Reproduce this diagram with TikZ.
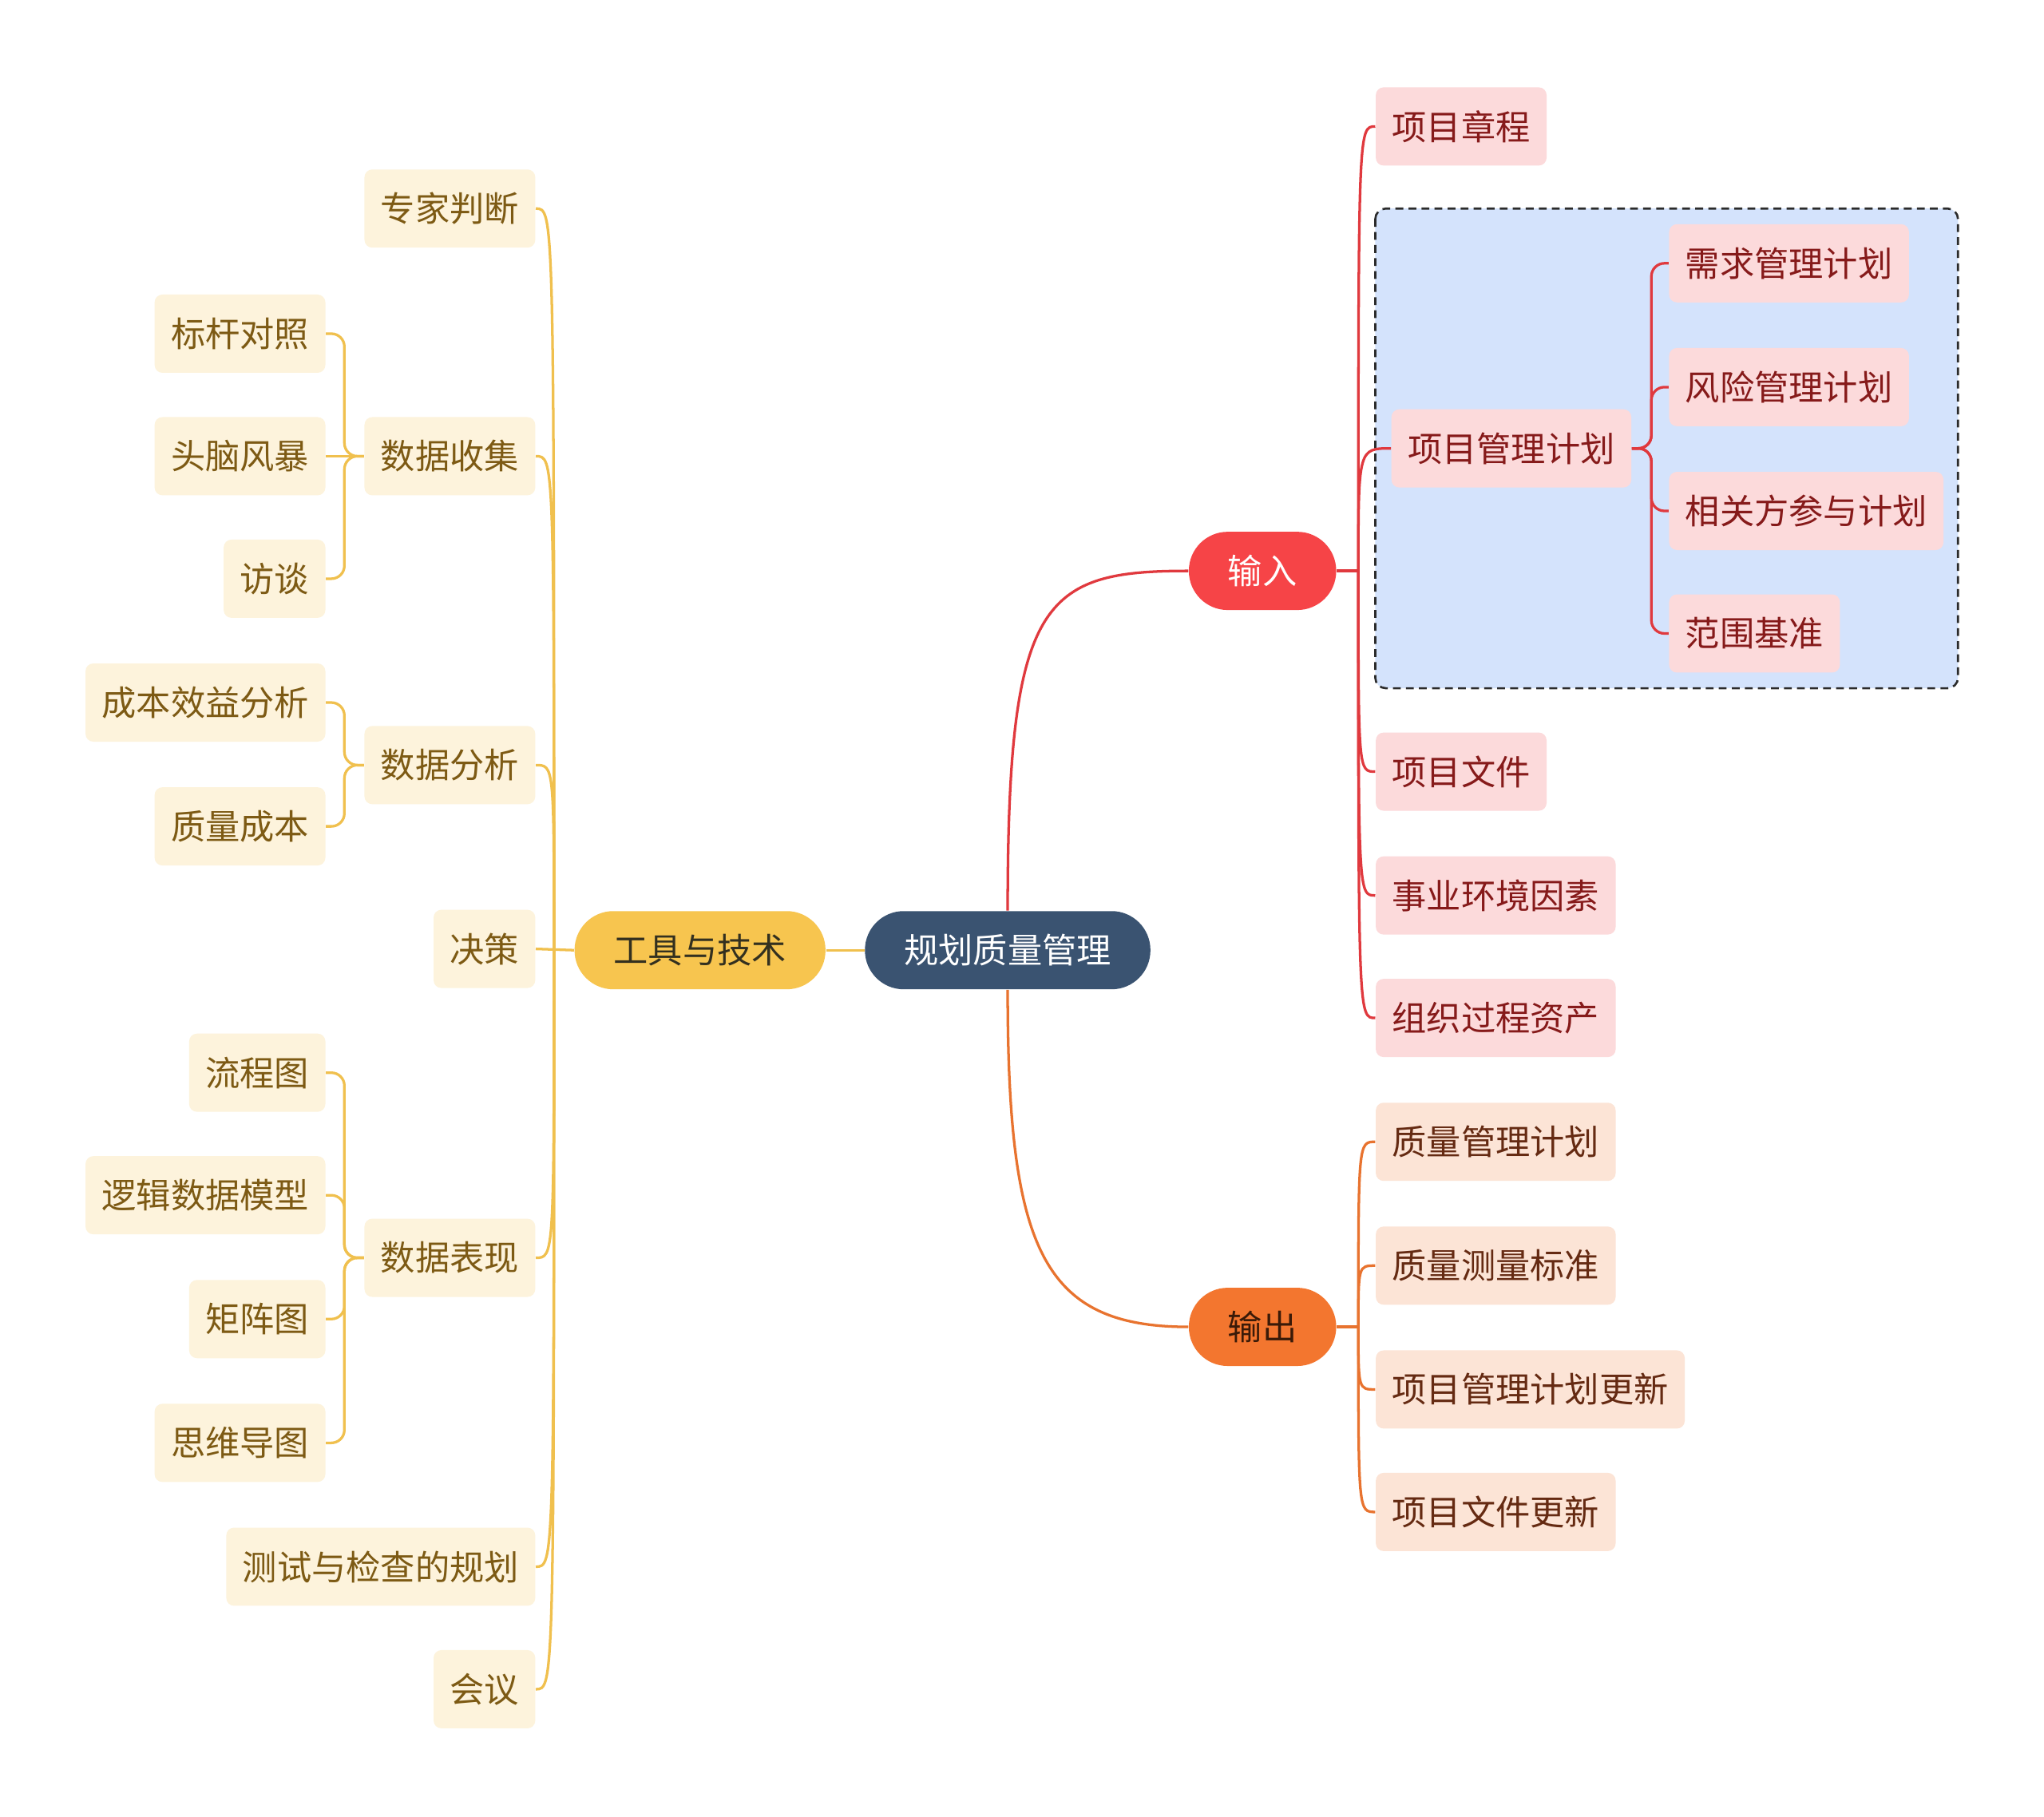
\documentclass[tikz,border=0pt]{standalone}
\usepackage{fontspec}
\setmainfont{Noto Sans CJK SC}
\usetikzlibrary{calc}
\definecolor{rootc}{HTML}{3A5371}
\definecolor{toolc}{HTML}{F7C54F}
\definecolor{tooltext}{HTML}{33301F}
\definecolor{inc}{HTML}{F64447}
\definecolor{outc}{HTML}{F3762F}
\definecolor{outtext}{HTML}{3A1A08}
\definecolor{leafYf}{HTML}{FDF3DC}
\definecolor{leafYt}{HTML}{7D5A14}
\definecolor{leafRf}{HTML}{FCDADB}
\definecolor{leafRt}{HTML}{861A1A}
\definecolor{leafOf}{HTML}{FCE4D6}
\definecolor{leafOt}{HTML}{652A12}
\definecolor{lineY}{HTML}{F0C04E}
\definecolor{lineR}{HTML}{E0393E}
\definecolor{lineO}{HTML}{E8732F}
\definecolor{boxf}{HTML}{D4E3FC}
\definecolor{boxd}{HTML}{2B2B2B}
\tikzset{
  basenode/.style={font=\fontsize{13.25pt}{16pt}\selectfont, inner ysep=0pt, minimum height=30pt},
  mainbox/.style={basenode, rounded corners=14.9pt, inner xsep=15pt},
  leafbox/.style={basenode, rounded corners=3pt, inner xsep=6.25pt},
  leafY/.style={leafbox, fill=leafYf, text=leafYt, anchor=east},
  leafR/.style={leafbox, fill=leafRf, text=leafRt, anchor=west},
  leafO/.style={leafbox, fill=leafOf, text=leafOt, anchor=west},
  lnY/.style={draw=lineY, line width=1pt},
  lnR/.style={draw=lineR, line width=1pt},
  lnO/.style={draw=lineO, line width=1pt},
  groupbox/.style={fill=boxf, draw=boxd, line width=0.8pt, dash pattern=on 3pt off 2pt, rounded corners=4pt}
}
\begin{document}
\begin{tikzpicture}[x=0.5pt,y=-0.5pt]
\useasboundingbox[fill=white] (0,0) rectangle (1568,1394);

% group box
\draw[groupbox] (1055,160) rectangle (1502,528);

% main nodes
\node[mainbox, fill=rootc, text=white] (root) at (773,729) {规划质量管理};
\node[mainbox, fill=toolc, text=tooltext] (tools) at (537,729) {工具与技术};
\node[mainbox, fill=inc, text=white] (in) at (968.5,438) {输入};
\node[mainbox, fill=outc, text=outtext] (out) at (968.5,1018) {输出};

% left level 2
\node[leafY] (zj) at (411,160) {专家判断};
\node[leafY] (sjsj) at (411,350) {数据收集};
\node[leafY] (sjfx) at (411,587) {数据分析};
\node[leafY] (jc) at (411,728) {决策};
\node[leafY] (sjbx) at (411,965) {数据表现};
\node[leafY] (csjc) at (411,1202) {测试与检查的规划};
\node[leafY] (hy) at (411,1296) {会议};
% left level 3
\node[leafY] (bg) at (250,256) {标杆对照};
\node[leafY] (tn) at (250,350) {头脑风暴};
\node[leafY] (ft) at (250,444) {访谈};
\node[leafY] (cb) at (250,539) {成本效益分析};
\node[leafY] (zl) at (250,634) {质量成本};
\node[leafY] (lc) at (250,823) {流程图};
\node[leafY] (lj) at (250,917) {逻辑数据模型};
\node[leafY] (jz) at (250,1012) {矩阵图};
\node[leafY] (sw) at (250,1107) {思维导图};

% right: input
\node[leafR] (zc) at (1055,97) {项目章程};
\node[leafR] (pm) at (1067,344) {项目管理计划};
\node[leafR] (wj) at (1055,592) {项目文件};
\node[leafR] (hj) at (1055,687) {事业环境因素};
\node[leafR] (zz) at (1055,781) {组织过程资产};
\node[leafR] (xq) at (1280,202) {需求管理计划};
\node[leafR] (fx) at (1280,297) {风险管理计划};
\node[leafR] (xg) at (1280,392) {相关方参与计划};
\node[leafR] (fw) at (1280,486) {范围基准};

% right: output
\node[leafO] (o1) at (1055,876) {质量管理计划};
\node[leafO] (o2) at (1055,971) {质量测量标准};
\node[leafO] (o3) at (1055,1066) {项目管理计划更新};
\node[leafO] (o4) at (1055,1160) {项目文件更新};

% root connectors
\draw[lnY] (root.west) -- (tools.east);
\draw[lnR] (root.north) .. controls ($(root.north)+(0,-239)$) and ($(in.west)+(-112,0)$) .. (in.west);
\draw[lnO] (root.south) .. controls ($(root.south)+(0,199)$) and ($(out.west)+(-112,0)$) .. (out.west);

% tools spine
\coordinate (ls) at (425,729);
\draw[lnY] (tools.west) -- (jc.east);
\foreach \c in {zj,sjsj,sjfx,sjbx,csjc,hy}{
  \draw[lnY] (ls) .. controls (ls |- \c.east) and (ls |- \c.east) .. (\c.east);
}
% left sub spines
\foreach \p/\c in {sjsj/bg,sjsj/ft,sjfx/cb,sjfx/zl,sjbx/lc,sjbx/lj,sjbx/jz,sjbx/sw}{
  \draw[lnY, rounded corners=5pt] (\p.west) -- ++(-15,0) |- (\c.east);
}
\draw[lnY] (sjsj.west) -- (tn.east);

% input spine
\coordinate (rs) at (1042,438);
\draw[lnR] (in.east) -- (rs);
\foreach \c in {zc,pm,wj,hj,zz}{
  \draw[lnR] (rs) .. controls (rs |- \c.west) and (rs |- \c.west) .. (\c.west);
}
\foreach \c in {xq,fx,xg,fw}{
  \draw[lnR, rounded corners=5pt] (pm.east) -- ++(15,0) |- (\c.west);
}

% output spine
\coordinate (os) at (1042,1018);
\draw[lnO] (out.east) -- (os);
\foreach \c in {o1,o2,o3,o4}{
  \draw[lnO] (os) .. controls (os |- \c.west) and (os |- \c.west) .. (\c.west);
}
\end{tikzpicture}
\end{document}
